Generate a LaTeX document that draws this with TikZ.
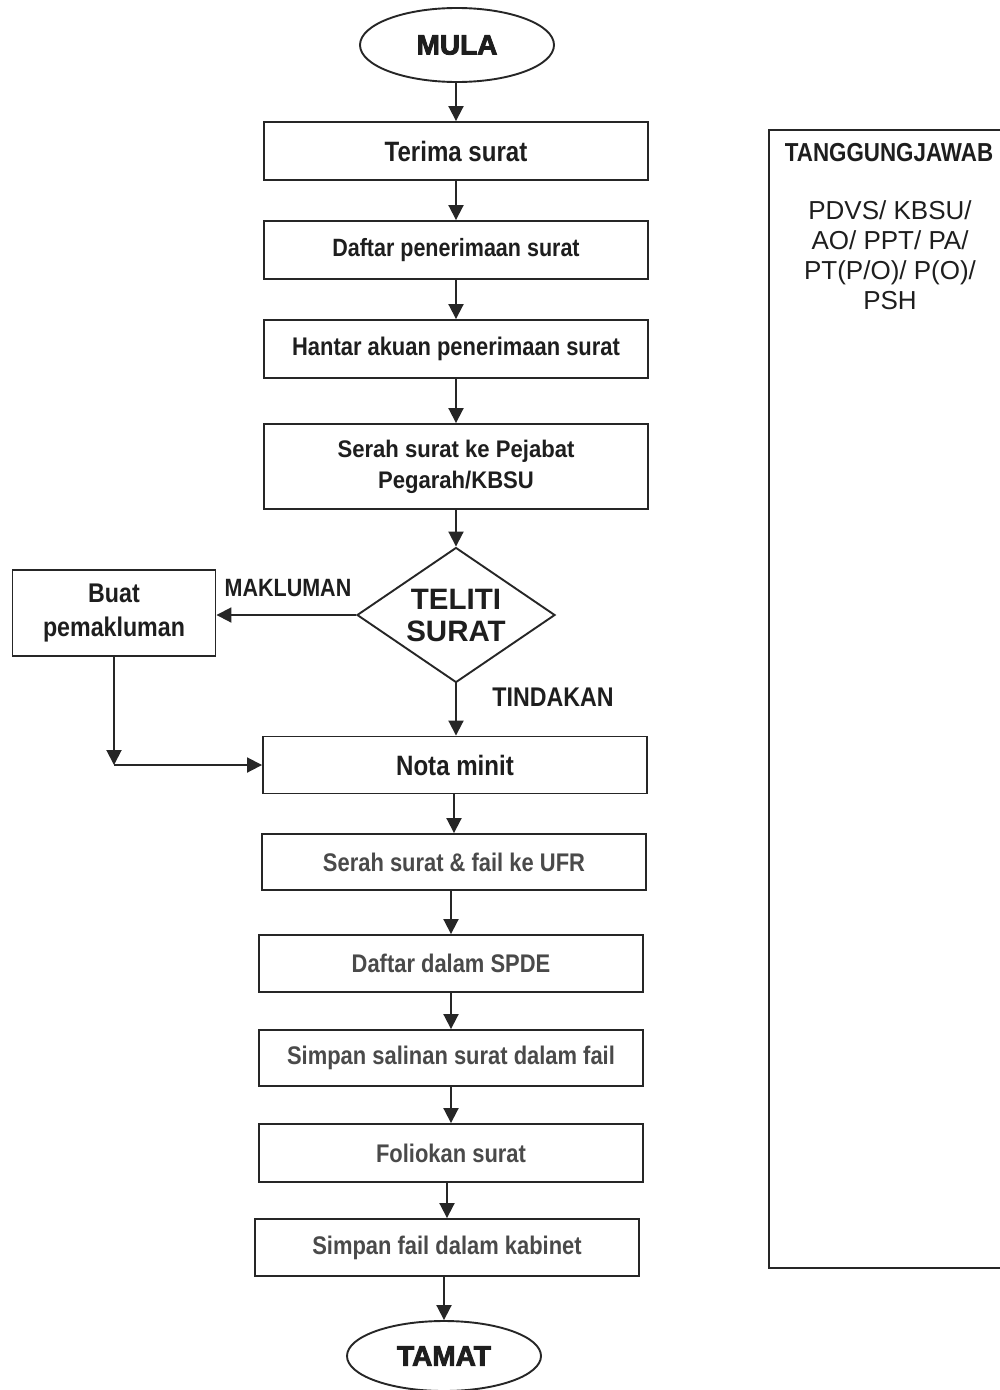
\documentclass[tikz,border=0pt]{standalone}
\usepackage{fontspec}
\setmainfont{Liberation Sans}
\newfontfamily\nbA{Liberation Sans Bold}[FakeStretch=0.86]
\newfontfamily\nbB{Liberation Sans Bold}[FakeStretch=0.92]
\newfontfamily\plainb{Liberation Sans Bold}
\newfontfamily\heavy{Liberation Sans Bold}[FakeBold=3]
\usetikzlibrary{shapes.geometric,arrows.meta}
\definecolor{ink}{HTML}{1E1E1E}
\definecolor{soft}{HTML}{4A4A4A}
\definecolor{edge}{HTML}{262626}
\tikzset{
  base/.style={draw=edge, line width=1.9pt, inner sep=0pt, align=center},
  proc/.style={base, rectangle, minimum width=384pt, minimum height=57pt,
    text=ink, font=\nbA\fontsize{25}{31}\selectfont},
  proclow/.style={proc, text=soft, font=\nbA\fontsize{25.5}{31}\selectfont},
  term/.style={base, ellipse, minimum width=194pt, minimum height=74pt,
    text=ink, font=\heavy\fontsize{28}{30}\selectfont},
  decide/.style={base, diamond, aspect=1.47, minimum width=198pt, minimum height=135pt,
    text=ink, font=\plainb\fontsize{29.5}{32}\selectfont},
  lbl/.style={inner sep=0pt, text=ink, font=\nbA\fontsize{25}{30}\selectfont},
  arr/.style={draw=edge, line width=1.9pt, -{Triangle[width=15pt,length=15pt]}}
}
\begin{document}
\begin{tikzpicture}[x=1pt,y=-1pt]
\useasboundingbox (0,0) rectangle (1000,1390);
\fill[white] (0,0) rectangle (1000,1390);
\clip (0,0) rectangle (1000,1390);

\node[term] (start) at (457,45) {MULA};
\node[proc, minimum height=58pt, font=\nbA\fontsize{28}{31}\selectfont] (terima) at (456,151) {Terima surat};
\node[proc, minimum height=58pt, font=\nbA\fontsize{25}{31}\selectfont] (daftar) at (456,250) {Daftar penerimaan surat};
\node[proc, minimum height=58pt, font=\nbA\fontsize{25.5}{31}\selectfont] (hantar) at (456,349) {Hantar akuan penerimaan surat};
\node[proc, minimum height=85pt, font=\nbB\fontsize{24}{31}\selectfont] (serah) at (456,466.5) {Serah surat ke Pejabat\\Pegarah/KBSU};
\node[decide] (teliti) at (456,615) {TELITI\\SURAT};
\node[proc, minimum width=203pt, minimum height=86pt, font=\nbA\fontsize{27}{34}\selectfont] (buat) at (114,613) {Buat\\pemakluman};
\node[proc, font=\nbA\fontsize{28}{31}\selectfont] (nota) at (455,765) {Nota minit};
\node[proclow, minimum height=56pt] (ufr) at (454,862) {Serah surat \& fail ke UFR};
\node[proclow] (spde) at (451,963.5) {Daftar dalam SPDE};
\node[proclow, minimum height=56pt] (salinan) at (451,1058) {Simpan salinan surat dalam fail};
\node[proclow, minimum height=58pt] (folio) at (451,1153) {Foliokan surat};
\node[proclow] (kabinet) at (447,1247.5) {Simpan fail dalam kabinet};
\node[term, minimum height=70pt] (tamat) at (444,1356) {TAMAT};

\node[lbl] (makluman) at (288,588) {MAKLUMAN};
\node[lbl, font=\nbA\fontsize{27}{30}\selectfont] (tindakan) at (553,697) {TINDAKAN};

\draw[arr] (start.south -| terima.north) -- (terima.north);
\draw[arr] (terima.south) -- (daftar.north);
\draw[arr] (daftar.south) -- (hantar.north);
\draw[arr] (hantar.south) -- (hantar.south |- serah.north);
\draw[arr] (serah.south -| teliti.north) -- (teliti.north);
\draw[arr] (teliti.west) -- (teliti.west -| buat.east);
\draw[arr] (teliti.south) -- (teliti.south |- nota.north);
\coordinate (corner) at (buat.south |- nota.west);
\draw[arr] (buat.south) -- (corner);
\draw[arr] (corner) -- (nota.west);
\draw[arr] (nota.south -| ufr.north) -- (ufr.north);
\draw[arr] (ufr.south -| spde.north) -- (spde.north);
\draw[arr] (spde.south -| salinan.north) -- (salinan.north);
\draw[arr] (salinan.south -| folio.north) -- (folio.north);
\draw[arr] (folio.south -| kabinet.north) -- (kabinet.north);
\draw[arr] (kabinet.south -| tamat.north) -- (tamat.north);

\node[base, rectangle, minimum width=243pt, minimum height=1138pt] (resp) at (890.5,699) {};
\node[lbl, font=\nbA\fontsize{26}{30}\selectfont] (tanggung) at (889,153) {TANGGUNGJAWAB};
\node[inner sep=0pt, align=center, text=ink, font=\fontsize{26}{30}\selectfont, anchor=north] (pegawai) at (890,200) {PDVS/ KBSU/\\AO/ PPT/ PA/\\PT(P/O)/ P(O)/\\PSH};
\end{tikzpicture}
\end{document}
